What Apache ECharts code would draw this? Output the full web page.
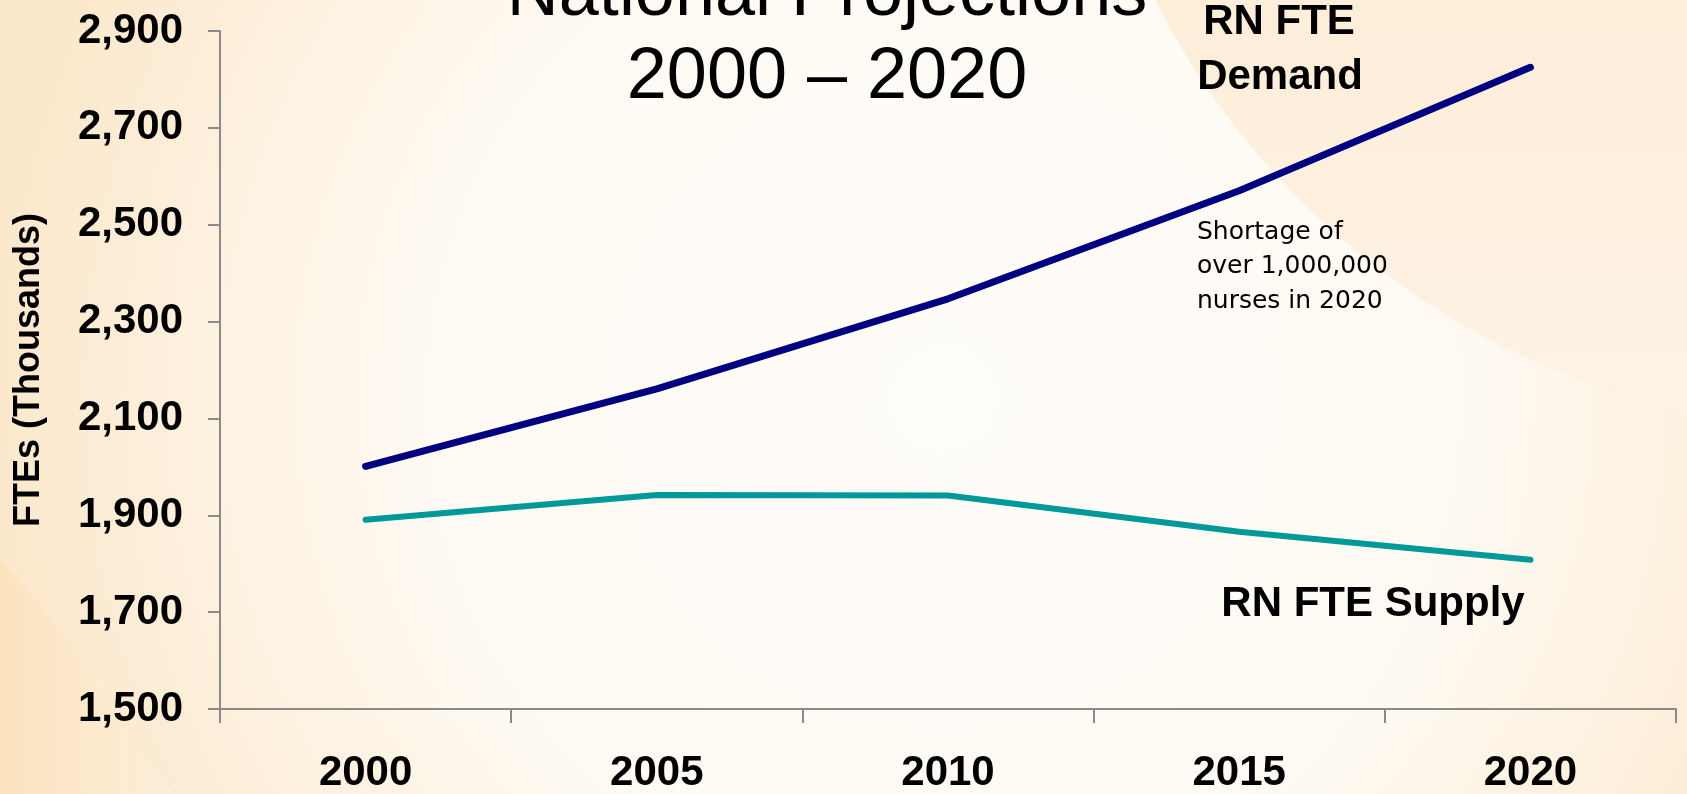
<!DOCTYPE html>
<html>
<head>
<meta charset="utf-8">
<script src="https://cdn.jsdelivr.net/npm/echarts@6/dist/echarts.min.js"></script>
<style>
html,body{margin:0;padding:0;background:#fef9f1;}
#chart{width:1687px;height:794px;}
</style>
</head>
<body>
<div id="chart"></div>
<script>
const years = ['2000', '2005', '2010', '2015', '2020'];
const demand = [2001, 2161, 2347, 2570, 2825];
const supply = [1891, 1942, 1941, 1866, 1808];
const yMin = 1500, yMax = 2900, yStep = 200;
const titleLines = ['National Projections', '2000 \u2013 2020'];
const demandLabel = ['RN FTE', 'Demand'];
const supplyLabel = 'RN FTE Supply';
const noteLines = ['Shortage of', 'over 1,000,000', 'nurses in 2020'];
const yName = 'FTEs (Thousands)';

const chart = echarts.init(document.getElementById('chart'));
const boldFont = 'bold 42px "Liberation Sans", Arial, sans-serif';
function txt(text, x, y, font, align, z) {
  return { type: 'text', x: x, y: y, z: z || 50,
    style: { text: text, font: font, fill: '#000', align: align || 'center', verticalAlign: 'middle' } };
}
const option = {
  backgroundColor: {
    type: 'radial', x: 0.56, y: 0.5, r: 1.2,
    colorStops: [
      { offset: 0, color: '#fffdf9' },
      { offset: 0.55, color: '#fefaf3' },
      { offset: 1, color: '#fce8cc' }
    ]
  },
  animation: false,
  graphic: [
    { type: 'circle', z: -10, silent: true, shape: { cx: 1850, cy: -350, r: 778 },
      style: { fill: { type: 'linear', x: 0, y: 0, x2: 0, y2: 1, colorStops: [
        { offset: 0.4, color: '#fde9cd' }, { offset: 1, color: '#fdf2e4' } ] } } },
    { type: 'polygon', z: -10, silent: true, shape: { points: [[0, 560], [45, 610], [175, 794], [0, 794]] },
      style: { fill: { type: 'linear', x: 0, y: 0, x2: 1, y2: 0, colorStops: [
        { offset: 0, color: '#fce3bf' }, { offset: 1, color: '#fdeed9' } ] } } },
    txt(titleLines[0], 827, -5, '72px "Liberation Sans", Arial, sans-serif'),
    txt(titleLines[1], 827, 78, '72px "Liberation Sans", Arial, sans-serif'),
    txt(demandLabel[0], 1279, 22, boldFont),
    txt(demandLabel[1], 1280, 77, boldFont),
    txt(supplyLabel, 1373, 604, boldFont),
    txt(noteLines[0], 1197, 232, '25px "DejaVu Sans", Verdana, sans-serif', 'left'),
    txt(noteLines[1], 1197, 266, '25px "DejaVu Sans", Verdana, sans-serif', 'left'),
    txt(noteLines[2], 1197, 301, '25px "DejaVu Sans", Verdana, sans-serif', 'left')
  ],
  grid: { left: 220, right: 11, top: 31, bottom: 82.5, containLabel: false },
  xAxis: {
    type: 'category', data: years, boundaryGap: true,
    axisLine: { show: true, lineStyle: { color: '#8a8a8a', width: 2 } },
    axisTick: { show: true, length: 14, lineStyle: { color: '#8a8a8a', width: 2 } },
    axisLabel: { color: '#000', fontSize: 42, fontWeight: 'bold', fontFamily: '"Liberation Sans", Arial, sans-serif', margin: 43 },
    splitLine: { show: false }
  },
  yAxis: {
    type: 'value', min: yMin, max: yMax, interval: yStep,
    name: yName, nameLocation: 'middle', nameRotate: 90, nameGap: 173,
    nameTextStyle: { color: '#000', fontSize: 36, fontWeight: 'bold', fontFamily: '"Liberation Sans", Arial, sans-serif' },
    axisLine: { show: true, lineStyle: { color: '#8a8a8a', width: 2 } },
    axisTick: { show: true, length: 12, lineStyle: { color: '#8a8a8a', width: 2 } },
    axisLabel: { color: '#000', fontSize: 42, fontWeight: 'bold', fontFamily: '"Liberation Sans", Arial, sans-serif', margin: 37,
      formatter: function (v) { return v.toLocaleString('en-US'); } },
    splitLine: { show: false }
  },
  series: [
    { name: 'RN FTE Demand', type: 'line', data: demand, symbol: 'none', smooth: false,
      lineStyle: { color: '#000080', width: 7, cap: 'round', join: 'round' } },
    { name: 'RN FTE Supply', type: 'line', data: supply, symbol: 'none', smooth: false,
      lineStyle: { color: '#009999', width: 6, cap: 'round', join: 'round' } }
  ]
};
chart.setOption(option);
</script>
</body>
</html>
